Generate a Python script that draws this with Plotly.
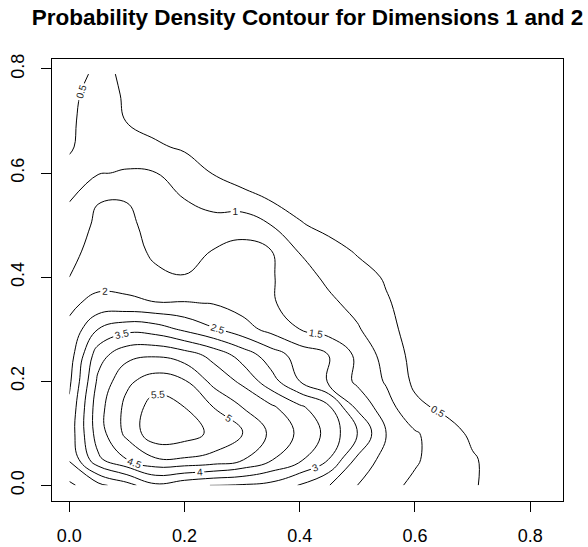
import plotly.graph_objects as go

# Grid coordinates of the density estimate (dimension 1 across, dimension 2 up)
dim1 = [0.00, 0.05, 0.10, 0.15, 0.20, 0.25, 0.30, 0.35,
        0.40, 0.45, 0.50, 0.55, 0.60, 0.65, 0.70, 0.75]
dim2 = [0.00, 0.05, 0.10, 0.15, 0.20, 0.25, 0.30, 0.35,
        0.40, 0.45, 0.50, 0.55, 0.60, 0.65, 0.70, 0.75, 0.79]

# Estimated joint density, one row per dim2 value
density = [
    [1.90, 2.35, 2.80, 3.40, 3.15, 2.98, 2.95, 2.85, 2.47, 2.02, 1.50, 1.12, 0.92, 0.72, 0.55, 0.30],
    [2.55, 3.90, 4.50, 4.95, 4.95, 4.85, 4.55, 4.05, 3.60, 3.00, 1.90, 1.30, 1.05, 0.80, 0.55, 0.30],
    [2.70, 4.25, 5.14, 5.85, 5.75, 5.38, 5.05, 4.40, 3.90, 3.35, 2.50, 1.50, 1.05, 0.75, 0.40, 0.22],
    [2.60, 4.30, 5.15, 5.75, 5.50, 5.00, 4.50, 4.10, 3.60, 3.10, 1.90, 1.20, 0.62, 0.40, 0.25, 0.15],
    [2.40, 4.10, 4.90, 5.25, 5.05, 4.35, 3.90, 3.20, 2.50, 1.95, 1.40, 0.95, 0.40, 0.25, 0.15, 0.10],
    [2.25, 3.80, 4.35, 4.45, 4.25, 3.85, 3.30, 2.75, 2.30, 2.00, 1.40, 0.80, 0.35, 0.20, 0.12, 0.08],
    [2.10, 3.00, 3.35, 3.25, 2.90, 2.55, 2.20, 1.85, 1.50, 1.30, 1.05, 0.65, 0.30, 0.18, 0.10, 0.06],
    [1.90, 2.15, 2.10, 2.02, 2.03, 1.98, 1.80, 1.55, 1.30, 1.10, 0.85, 0.55, 0.28, 0.15, 0.08, 0.05],
    [1.50, 1.80, 1.80, 1.60, 1.52, 1.65, 1.70, 1.55, 1.20, 0.90, 0.70, 0.45, 0.25, 0.13, 0.07, 0.04],
    [1.35, 1.70, 1.70, 1.40, 1.32, 1.52, 1.62, 1.52, 0.97, 0.70, 0.45, 0.25, 0.14, 0.08, 0.05, 0.03],
    [1.15, 1.62, 1.62, 1.30, 1.15, 1.20, 1.35, 1.00, 0.55, 0.35, 0.20, 0.12, 0.07, 0.04, 0.03, 0.02],
    [0.98, 1.47, 1.48, 1.20, 1.00, 0.80, 0.65, 0.47, 0.30, 0.17, 0.10, 0.06, 0.04, 0.03, 0.02, 0.01],
    [0.62, 0.97, 1.04, 1.01, 0.75, 0.48, 0.30, 0.20, 0.12, 0.08, 0.05, 0.03, 0.02, 0.015, 0.01, 0.01],
    [0.45, 0.75, 0.78, 0.56, 0.44, 0.30, 0.20, 0.13, 0.08, 0.05, 0.03, 0.02, 0.015, 0.01, 0.01, 0.01],
    [0.46, 0.62, 0.49, 0.35, 0.25, 0.18, 0.12, 0.08, 0.05, 0.03, 0.02, 0.015, 0.01, 0.01, 0.01, 0.01],
    [0.44, 0.60, 0.47, 0.30, 0.20, 0.14, 0.10, 0.06, 0.04, 0.03, 0.02, 0.01, 0.01, 0.01, 0.01, 0.01],
    [0.38, 0.56, 0.46, 0.28, 0.18, 0.12, 0.08, 0.05, 0.03, 0.02, 0.015, 0.01, 0.01, 0.01, 0.01, 0.01],
]

tick_vals = [0.0, 0.2, 0.4, 0.6, 0.8]
tick_text = ["0.0", "0.2", "0.4", "0.6", "0.8"]

fig = go.Figure(
    go.Contour(
        x=dim1,
        y=dim2,
        z=density,
        autocontour=False,
        contours=dict(
            start=0.5, end=5.5, size=0.5,
            coloring="lines",
            showlabels=True,
            labelfont=dict(family="Liberation Sans, Arial, sans-serif", size=10, color="#222222"),
        ),
        line=dict(width=1, smoothing=1.2),
        colorscale=[[0, "black"], [1, "black"]],
        showscale=False,
        hoverinfo="skip",
    )
)

axis_common = dict(
    showline=True, linecolor="black", linewidth=1, mirror=True,
    ticks="outside", ticklen=10, tickwidth=1, tickcolor="black",
    showgrid=False, zeroline=False, automargin=False,
    tickvals=tick_vals, ticktext=tick_text,
    tickfont=dict(family="Liberation Sans, Arial, sans-serif", size=18, color="black"),
)

fig.update_xaxes(range=[-0.030, 0.857], ticklabelstandoff=8, **axis_common)
fig.update_yaxes(range=[-0.030, 0.819], tickangle=-90, ticklabelstandoff=10, **axis_common)

fig.update_layout(
    width=588, height=547,
    margin=dict(l=52, r=25, t=59, b=46, autoexpand=False),
    paper_bgcolor="white", plot_bgcolor="white",
    title=dict(
        text="<b>Probability Density Contour for Dimensions 1 and 2</b>",
        x=0.5, xref="paper", xanchor="center",
        y=1 - 17 / 547, yref="container", yanchor="middle",
        font=dict(family="Liberation Sans, Arial, sans-serif", size=22.5, color="black"),
    ),
    showlegend=False,
)

fig.write_html("out.html")
